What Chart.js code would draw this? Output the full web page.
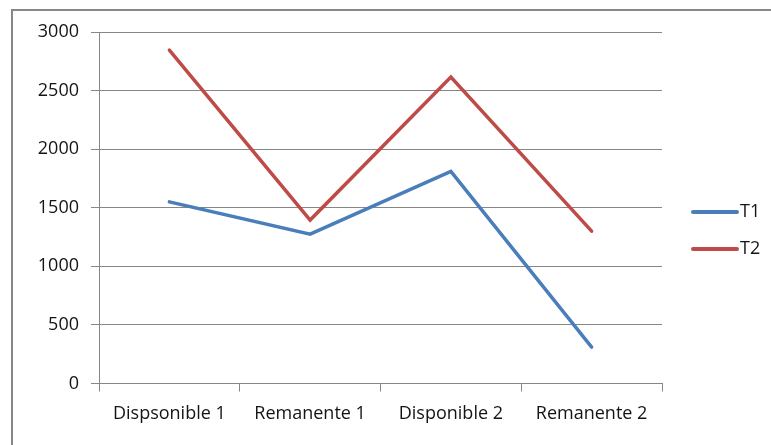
<!DOCTYPE html>
<html>
<head>
<meta charset="utf-8">
<script src="https://cdn.jsdelivr.net/npm/chart.js@4.4.1/dist/chart.umd.min.js"></script>
<style>
  html, body { margin: 0; padding: 0; background: #ffffff; }
  #wrap { width: 771px; height: 445px; position: relative; }
</style>
</head>
<body>
<div id="wrap"><canvas id="c" width="771" height="445"></canvas></div>
<script>
// Categories and series
const categories = ['Dispsonible 1', 'Remanente 1', 'Disponible 2', 'Remanente 2'];
const seriesT1 = [1550, 1275, 1810, 310];
const seriesT2 = [2845, 1395, 2615, 1300];
const seriesNames = ['T1', 'T2'];
const yTicks = [0, 500, 1000, 1500, 2000, 2500, 3000];

const FONT = '"Open Sans", Lato, sans-serif';
const FONT_SIZE = 18;
const GRID = '#868686';
const TEXT = '#141414';

// Outer frame of the chart object
const framePlugin = {
  id: 'frame',
  beforeDraw(chart) {
    const ctx = chart.ctx;
    ctx.save();
    ctx.fillStyle = '#ffffff';
    ctx.fillRect(0, 0, chart.width, chart.height);
    ctx.strokeStyle = '#878787';
    ctx.lineWidth = 2;
    ctx.strokeRect(12, 10, chart.width + 20, chart.height + 20);
    ctx.restore();
  }
};

// Line-swatch legend on the right side
const sideLegend = {
  id: 'sideLegend',
  afterDraw(chart) {
    const ctx = chart.ctx;
    const x0 = 693, x1 = 737, yStart = 212, step = 37;
    ctx.save();
    chart.data.datasets.forEach((ds, i) => {
      const y = yStart + i * step;
      ctx.strokeStyle = ds.borderColor;
      ctx.lineWidth = 4;
      ctx.lineCap = 'round';
      ctx.beginPath();
      ctx.moveTo(x0, y);
      ctx.lineTo(x1, y);
      ctx.stroke();
      ctx.fillStyle = TEXT;
      ctx.font = FONT_SIZE + 'px ' + FONT;
      ctx.textAlign = 'left';
      ctx.textBaseline = 'middle';
      ctx.fillText(ds.label, x1 + 3, y);
    });
    ctx.restore();
  }
};

new Chart(document.getElementById('c'), {
  type: 'line',
  data: {
    labels: categories,
    datasets: [
      { label: seriesNames[0], data: seriesT1, borderColor: '#4a7ebb', backgroundColor: '#4a7ebb' },
      { label: seriesNames[1], data: seriesT2, borderColor: '#be4b48', backgroundColor: '#be4b48' }
    ]
  },
  options: {
    responsive: false,
    animation: false,
    devicePixelRatio: 1,
    layout: { padding: { left: 0, top: 32, right: 109, bottom: 0 } },
    elements: {
      line: { borderWidth: 3.5, tension: 0, borderCapStyle: 'round', borderJoinStyle: 'miter' },
      point: { radius: 0, hoverRadius: 0 }
    },
    plugins: {
      legend: { display: false },
      tooltip: { enabled: false }
    },
    scales: {
      x: {
        type: 'category',
        offset: true,
        grid: {
          offset: true,
          drawOnChartArea: false,
          drawTicks: true,
          tickLength: 8,
          color: GRID,
          lineWidth: 1
        },
        border: { display: true, color: GRID, width: 1 },
        ticks: {
          color: TEXT,
          font: { family: FONT, size: FONT_SIZE },
          padding: 12,
          maxRotation: 0,
          autoSkip: false
        },
        afterFit(scale) { scale.height = 61.5; }
      },
      y: {
        min: 0,
        max: 3000,
        afterBuildTicks(scale) { scale.ticks = yTicks.map(v => ({ value: v })); },
        grid: {
          drawTicks: true,
          tickLength: 8,
          color: GRID,
          lineWidth: 1
        },
        border: { display: true, color: GRID, width: 1 },
        ticks: {
          color: TEXT,
          font: { family: FONT, size: FONT_SIZE },
          padding: 12,
          callback: (v) => String(v)
        },
        afterFit(scale) { scale.width = 99; }
      }
    }
  },
  plugins: [framePlugin, sideLegend]
});
</script>
</body>
</html>
